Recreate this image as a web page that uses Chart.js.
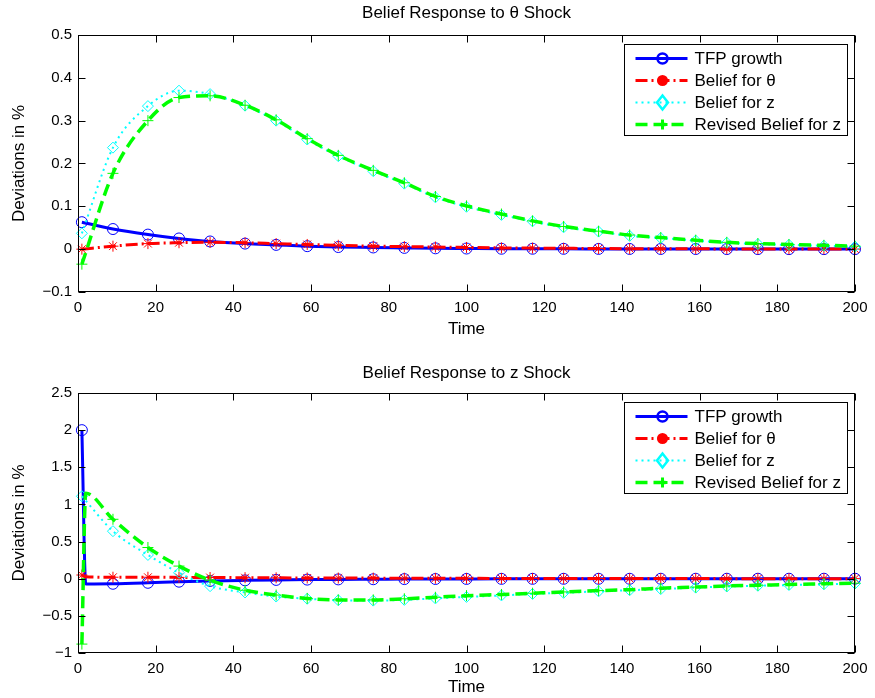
<!DOCTYPE html>
<html>
<head>
<meta charset="utf-8">
<script src="https://cdn.jsdelivr.net/npm/chart.js@4.4.1/dist/chart.umd.min.js"></script>
<style>
  html, body { margin: 0; padding: 0; background: #fff; }
  #wrap { position: relative; width: 875px; height: 698px; }
  canvas { position: absolute; left: 0; }
</style>
</head>
<body>
<div id="wrap">
  <canvas id="thetaChart" width="875" height="349" style="top:0"></canvas>
  <canvas id="zChart" width="875" height="349" style="top:349px"></canvas>
</div>
<script>
// periods that carry a marker
const markerTimes = [1, 9, 18, 26, 34, 43, 51, 59, 67, 76, 84, 92, 100, 109, 117, 125, 134, 142, 150, 159, 167, 175, 183, 192, 200];
const xTicks = [0, 20, 40, 60, 80, 100, 120, 140, 160, 180, 200];

// responses to a theta shock
const thetaTimes = markerTimes;
const thetaTfp = [0.063, 0.047, 0.034, 0.025, 0.018, 0.013, 0.010, 0.007, 0.005, 0.004, 0.003, 0.002, 0.0015, 0.001, 0.001, 0.0008, 0.0006, 0.0005, 0.0004, 0.0003, 0.0002, 0.0002, 0.0001, 0.0001, 0.0001];
const thetaBeliefTheta = [0.000, 0.007, 0.013, 0.015, 0.016, 0.015, 0.013, 0.011, 0.009, 0.007, 0.006, 0.005, 0.004, 0.003, 0.0025, 0.002, 0.0015, 0.001, 0.001, 0.0008, 0.0006, 0.0005, 0.0004, 0.0003, 0.0002];
const thetaBeliefZ = [0.037, 0.237, 0.334, 0.370, 0.362, 0.335, 0.300, 0.256, 0.217, 0.182, 0.153, 0.121, 0.099, 0.080, 0.065, 0.051, 0.041, 0.031, 0.026, 0.020, 0.015, 0.012, 0.010, 0.008, 0.006];
const thetaRevisedZ = [-0.035, 0.177, 0.300, 0.354, 0.358, 0.336, 0.302, 0.258, 0.219, 0.184, 0.155, 0.123, 0.101, 0.082, 0.066, 0.053, 0.042, 0.033, 0.027, 0.021, 0.016, 0.013, 0.011, 0.009, 0.007];
const thetaYTicks = [-0.1, 0, 0.1, 0.2, 0.3, 0.4, 0.5];

// responses to a z shock (period 2 holds the jump right after impact)
const zTimes = [1, 2, 9, 18, 26, 34, 43, 51, 59, 67, 76, 84, 92, 100, 109, 117, 125, 134, 142, 150, 159, 167, 175, 183, 192, 200];
const zTfp = [2.0, -0.07, -0.068, -0.055, -0.04, -0.03, -0.022, -0.016, -0.012, -0.009, -0.007, -0.005, -0.004, -0.003, -0.002, -0.0015, -0.001, -0.001, -0.0008, -0.0006, -0.0005, -0.0004, -0.0003, -0.0002, -0.0002, -0.0001];
const zBeliefTheta = [0.05, 0.025, 0.02, 0.02, 0.018, 0.016, 0.014, 0.012, 0.01, 0.009, 0.008, 0.007, 0.006, 0.005, 0.004, 0.004, 0.003, 0.003, 0.002, 0.002, 0.002, 0.001, 0.001, 0.001, 0.001, 0.001];
const zBeliefZ = [1.11, 1.05, 0.64, 0.32, 0.08, -0.10, -0.185, -0.24, -0.27, -0.29, -0.295, -0.285, -0.265, -0.245, -0.225, -0.205, -0.19, -0.17, -0.155, -0.14, -0.12, -0.105, -0.095, -0.085, -0.075, -0.065];
const zRevisedZ = [-0.88, 1.15, 0.80, 0.42, 0.17, -0.02, -0.155, -0.22, -0.265, -0.285, -0.285, -0.27, -0.25, -0.228, -0.212, -0.195, -0.178, -0.16, -0.147, -0.128, -0.113, -0.097, -0.088, -0.077, -0.068, -0.06];
const zYTicks = [-1, -0.5, 0, 0.5, 1, 1.5, 2, 2.5];

const seriesLabels = ['TFP growth', 'Belief for θ', 'Belief for z', 'Revised Belief for z'];
const seriesColors = ['#0000ff', '#ff0000', '#00ffff', '#00ff00'];
const seriesWidths = [3, 3, 2, 3.5];
const seriesDashes = [[], [12, 4, 2, 4], [2, 4], [12, 6]];
const seriesMarkers = ['circle', 'star', 'rectRot', 'cross'];
const legendMarkers = ['circle', 'dot', 'diamond', 'plus'];

const FONT = "'Liberation Sans', Arial, Helvetica, sans-serif";
Chart.defaults.font.family = FONT;
Chart.defaults.font.size = 17;
Chart.defaults.color = '#000';

function makeDatasets(times, seriesList) {
    return seriesList.map((values, i) => ({
        label: seriesLabels[i],
        data: times.map((t, k) => ({ x: t, y: values[k] })),
        borderColor: seriesColors[i],
        borderWidth: seriesWidths[i],
        borderDash: seriesDashes[i],
        pointStyle: seriesMarkers[i],
        pointRadius: times.map(t => markerTimes.includes(t) ? 5.5 : 0),
        pointBorderColor: seriesColors[i],
        pointBackgroundColor: 'rgba(0,0,0,0)',
        pointBorderWidth: 1,
        cubicInterpolationMode: 'monotone',
        clip: false,
        order: 3 - i
    }));
}

function drawLegendMarker(ctx, kind, x, y, color) {
    ctx.save();
    ctx.setLineDash([]);
    ctx.strokeStyle = color;
    ctx.fillStyle = color;
    ctx.beginPath();
    if (kind === 'circle') {
        ctx.lineWidth = 2.5;
        ctx.arc(x, y, 5, 0, Math.PI * 2);
        ctx.stroke();
    } else if (kind === 'dot') {
        ctx.arc(x, y, 5.5, 0, Math.PI * 2);
        ctx.fill();
    } else if (kind === 'diamond') {
        ctx.lineWidth = 2.5;
        ctx.moveTo(x, y - 7); ctx.lineTo(x + 5.5, y); ctx.lineTo(x, y + 7); ctx.lineTo(x - 5.5, y);
        ctx.closePath();
        ctx.stroke();
    } else {
        ctx.lineWidth = 3;
        ctx.moveTo(x - 5, y); ctx.lineTo(x + 5, y);
        ctx.moveTo(x, y - 5); ctx.lineTo(x, y + 5);
        ctx.stroke();
    }
    ctx.restore();
}

// boxed axes with inward ticks, a title centred over the axes and a legend
const matlabFrame = {
    id: 'matlabFrame',
    afterDatasetsDraw(chart, args, opts) {
        const { ctx, chartArea: a, scales: { x, y } } = chart;
        const L = Math.round(a.left) + 0.5, R = Math.round(a.right) - 0.5;
        const T = Math.round(a.top) + 0.5, B = Math.round(a.bottom) - 0.5;
        const tl = 7;
        ctx.save();
        ctx.strokeStyle = '#000';
        ctx.lineWidth = 1;
        ctx.setLineDash([]);
        ctx.strokeRect(L, T, R - L, B - T);
        ctx.beginPath();
        x.ticks.forEach(t => {
            const px = Math.round(x.getPixelForValue(t.value)) + 0.5;
            ctx.moveTo(px, B); ctx.lineTo(px, B - tl);
            ctx.moveTo(px, T); ctx.lineTo(px, T + tl);
        });
        y.ticks.forEach(t => {
            const py = Math.round(y.getPixelForValue(t.value)) + 0.5;
            ctx.moveTo(L, py); ctx.lineTo(L + tl, py);
            ctx.moveTo(R, py); ctx.lineTo(R - tl, py);
        });
        ctx.stroke();

        // title
        ctx.font = '17px ' + FONT;
        ctx.fillStyle = '#000';
        ctx.textAlign = 'center';
        ctx.textBaseline = 'middle';
        ctx.fillText(opts.title, (a.left + a.right) / 2, a.top - opts.titleGap);

        // legend
        const bx = Math.round(a.right) - 231 + 0.5, by = T + 9, bw = 223, bh = 91;
        ctx.fillStyle = '#fff';
        ctx.fillRect(bx, by, bw, bh);
        ctx.strokeRect(bx, by, bw, bh);
        ctx.textAlign = 'left';
        chart.data.datasets.forEach((ds, i) => {
            const ry = by + 14 + i * 22;
            ctx.save();
            ctx.strokeStyle = ds.borderColor;
            ctx.lineWidth = ds.borderWidth;
            ctx.setLineDash(ds.borderDash);
            ctx.beginPath();
            ctx.moveTo(bx + 11, ry);
            ctx.lineTo(bx + 63, ry);
            ctx.stroke();
            ctx.restore();
            drawLegendMarker(ctx, legendMarkers[i], bx + 38, ry, ds.borderColor);
            ctx.fillStyle = '#000';
            ctx.fillText(ds.label, bx + 70, ry + 1);
        });
        ctx.restore();
    }
};

// tick text with a real minus sign
const tickText = v => String(v).replace('-', '\u2212');

function makeChart(id, title, times, seriesList, yTicks, yMin, yMax, geom) {
    return new Chart(document.getElementById(id), {
        type: 'line',
        data: { datasets: makeDatasets(times, seriesList) },
        options: {
            responsive: false,
            animation: false,
            events: [],
            layout: { padding: { left: 0, right: 20, top: geom.areaTop, bottom: 0 } },
            plugins: {
                legend: { display: false },
                tooltip: { enabled: false },
                title: { display: false },
                matlabFrame: { title: title, titleGap: geom.titleGap }
            },
            scales: {
                x: {
                    type: 'linear',
                    min: 0,
                    max: 200,
                    afterBuildTicks: s => { s.ticks = xTicks.map(v => ({ value: v })); },
                    afterFit: s => { s.height = geom.xHeight; },
                    grid: { display: false, drawTicks: false },
                    border: { display: false },
                    ticks: { padding: 7, maxRotation: 0, font: { size: 15 } },
                    title: { display: true, text: 'Time', padding: { top: 0, bottom: geom.timeBottom } }
                },
                y: {
                    type: 'linear',
                    min: yMin,
                    max: yMax,
                    afterBuildTicks: s => { s.ticks = yTicks.map(v => ({ value: v })); },
                    afterFit: s => { s.width = 78; },
                    grid: { display: false, drawTicks: false },
                    border: { display: false },
                    ticks: { padding: 6, font: { size: 15 }, callback: tickText },
                    title: { display: true, text: 'Deviations in %', padding: { top: 9.5, bottom: 0 } }
                }
            }
        },
        plugins: [matlabFrame]
    });
}

makeChart('thetaChart', 'Belief Response to θ Shock', thetaTimes,
    [thetaTfp, thetaBeliefTheta, thetaBeliefZ, thetaRevisedZ], thetaYTicks, -0.1, 0.5,
    { areaTop: 35, xHeight: 57, timeBottom: 9.6, titleGap: 22 });

makeChart('zChart', 'Belief Response to z Shock', zTimes,
    [zTfp, zBeliefTheta, zBeliefZ, zRevisedZ], zYTicks, -1, 2.5,
    { areaTop: 44, xHeight: 45, timeBottom: 0.6, titleGap: 20 });
</script>
</body>
</html>
